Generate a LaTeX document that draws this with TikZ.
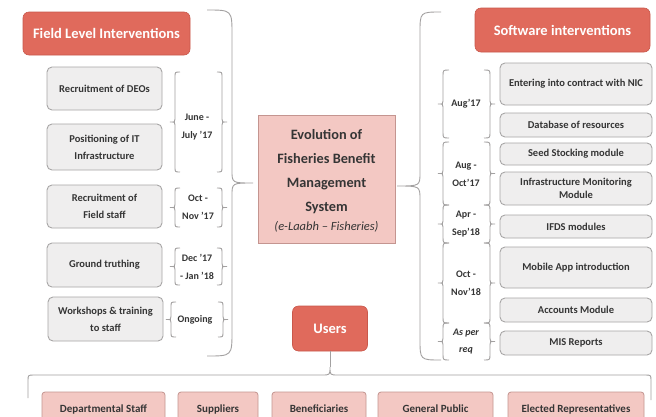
\documentclass[tikz,border=0pt]{standalone}
\usepackage{fontspec}
\setmainfont{Carlito}
\definecolor{redbox}{HTML}{E06A5C}
\definecolor{redline}{HTML}{C9584B}
\definecolor{grayfill}{HTML}{EFEEEE}
\definecolor{grayline}{HTML}{A8A6A6}
\definecolor{pinkfill}{HTML}{F3C8C3}
\definecolor{pinkline}{HTML}{C49590}
\definecolor{txt}{HTML}{353535}
\definecolor{brcol}{HTML}{A3A1A1}
\tikzset{
  redbx/.style={fill=redbox, draw=redline, line width=0.6pt, rounded corners=6pt, text=white, font=\bfseries\fontsize{14.5}{16}\selectfont, inner sep=0pt},
  graybx/.style={fill=grayfill, draw=grayline, line width=0.9pt, rounded corners=5pt, text=txt, font=\bfseries\fontsize{10.5}{17}\selectfont, align=center, inner sep=0pt},
  pinkbx/.style={fill=pinkfill, draw=pinkline, line width=0.8pt, rounded corners=3pt, text=txt, font=\bfseries\fontsize{11}{13}\selectfont, inner sep=0pt, minimum height=34pt},
  centerbx/.style={fill=pinkfill, draw=pinkline, line width=1pt, text=txt, align=center, inner sep=0pt},
  datetxt/.style={text=txt, font=\bfseries\fontsize{10}{18}\selectfont, align=center, inner sep=0pt},
  brc/.style={draw=brcol, line width=0.9pt},
}
% vertical brace: x, y1, y2, end offset (signed), tip offset (signed)
\newcommand{\VBrace}[5]{%
  \draw[brc] ({#1+#4},#2) .. controls (#1,#2) .. (#1,{#2+abs(#4)})
    -- (#1,{(#2+#3)/2-abs(#5)*0.6}) .. controls (#1,{(#2+#3)/2}) .. ({#1+#5},{(#2+#3)/2})
    .. controls (#1,{(#2+#3)/2}) .. (#1,{(#2+#3)/2+abs(#5)*0.6})
    -- (#1,{#3-abs(#4)}) .. controls (#1,#3) .. ({#1+#4},#3);}
\begin{document}
\begin{tikzpicture}[x=1pt,y=-1pt]
\fill[white] (0,0) rectangle (656,416);
\useasboundingbox (0,0) rectangle (656,416);
\clip (0,0) rectangle (656,416);

% headers
\node[redbx, minimum width=167pt, minimum height=43pt] (field) at (106.5,33.5) {Field Level Interventions};
\node[redbx, minimum width=175pt, minimum height=44pt] (soft) at (562.5,30) {Software interventions};
\node[redbx, minimum width=75pt, minimum height=45pt] (users) at (330,328.5) {Users};

% centre
\node[centerbx, minimum width=137pt, minimum height=128pt] (evo) at (326.5,179) {};
\node[text=txt, align=center, inner sep=0pt, font=\bfseries\fontsize{14.3}{24}\selectfont] (evotxt) at (326.5,171.5) {Evolution of\\Fisheries Benefit\\Management\\System};
\node[text=txt, inner sep=0pt, font=\itshape\fontsize{12.5}{14}\selectfont] (evosub) at (326.5,227) {(e-Laabh -- Fisheries)};

% left boxes
\node[graybx, minimum width=115pt, minimum height=43pt] (deo) at (104.5,88.5) {Recruitment of DEOs};
\node[graybx, minimum width=115pt, minimum height=46pt] (itinf) at (104.5,147) {Positioning of IT\\Infrastructure};
\node[graybx, minimum width=115pt, minimum height=43pt] (fstaff) at (104.5,206.5) {Recruitment of\\Field staff};
\node[graybx, minimum width=115pt, minimum height=44pt] (ground) at (104.5,265) {Ground truthing};
\node[graybx, minimum width=115pt, minimum height=44pt] (work) at (105.5,319) {Workshops \& training\\to staff};

% left dates
\node[datetxt] (d1) at (197,127) {June -\\July ’17};
\node[datetxt] (d2) at (198,207.5) {Oct -\\Nov ’17};
\node[datetxt] (d3) at (197,266.5) {Dec ’17\\- Jan ’18};
\node[datetxt] (d4) at (195,320) {Ongoing};
\VBrace{175}{72}{172}{5}{-5}
\VBrace{222}{72}{172}{-5}{5}
\VBrace{175}{188}{227}{5}{-5}
\VBrace{222}{188}{227}{-5}{5}
\VBrace{175}{248}{285}{5}{-5}
\VBrace{222}{248}{285}{-5}{5}
\VBrace{171}{302}{337}{5}{-5}
\VBrace{223}{302}{337}{-5}{5}

% right boxes
\node[graybx, minimum width=152pt, minimum height=42pt] (nic) at (576,84) {Entering into contract with NIC};
\node[graybx, minimum width=152pt, minimum height=24pt] (db) at (576,125) {Database of resources};
\node[graybx, minimum width=152pt, minimum height=22pt] (seed) at (576,154) {Seed Stocking module};
\node[graybx, minimum width=152pt, minimum height=33pt, font=\bfseries\fontsize{10.5}{13}\selectfont] (infra) at (576,188.5) {Infrastructure Monitoring\\Module};
\node[graybx, minimum width=152pt, minimum height=23pt] (ifds) at (576,226.5) {IFDS modules};
\node[graybx, minimum width=152pt, minimum height=41pt] (mob) at (576,267.5) {Mobile App introduction};
\node[graybx, minimum width=152pt, minimum height=24pt] (acc) at (576,310) {Accounts Module};
\node[graybx, minimum width=152pt, minimum height=24pt] (mis) at (576,343) {MIS Reports};

% right dates
\node[datetxt] (r1) at (466,104) {Aug’17};
\node[datetxt] (r2) at (466,174) {Aug -\\Oct’17};
\node[datetxt] (r3) at (466,224) {Apr -\\Sep’18};
\node[datetxt] (r4) at (466,283) {Oct -\\Nov’18};
\node[datetxt, font=\bfseries\itshape\fontsize{10}{17}\selectfont] (r5) at (466,342) {As per\\req};
\VBrace{443}{70}{138}{6}{-5}
\VBrace{490}{70}{138}{-6}{5}
\VBrace{443}{142}{205}{6}{-5}
\VBrace{490}{142}{205}{-6}{5}
\VBrace{443}{205}{243}{6}{-5}
\VBrace{490}{205}{243}{-6}{5}
\VBrace{443}{243}{323}{6}{-5}
\VBrace{490}{243}{323}{-6}{5}
\VBrace{443}{323}{360}{6}{-5}
\VBrace{490}{323}{360}{-6}{5}

% big braces
\VBrace{232}{10}{356}{-25}{21}
\VBrace{420}{12}{360}{21}{-23}

% users bracket
\coordinate (tipu) at (330,367);
\draw[brc] (users.south) -- (tipu);
\draw[brc] (28,398) -- (28,381) .. controls (28,375) .. (34,375) -- (322,375) .. controls (330,375) .. (tipu)
  .. controls (330,375) .. (338,375) -- (645,375) .. controls (651,375) .. (651,381) -- (651,400);

% bottom boxes
\node[pinkbx, minimum width=123pt] (dept) at (103.5,409) {Departmental Staff};
\node[pinkbx, minimum width=80pt] (supp) at (218,409) {Suppliers};
\node[pinkbx, minimum width=94pt] (bene) at (319,409) {Beneficiaries};
\node[pinkbx, minimum width=115pt] (pub) at (435.5,409) {General Public};
\node[pinkbx, minimum width=136pt] (elec) at (576,409) {Elected Representatives};
\end{tikzpicture}
\end{document}
